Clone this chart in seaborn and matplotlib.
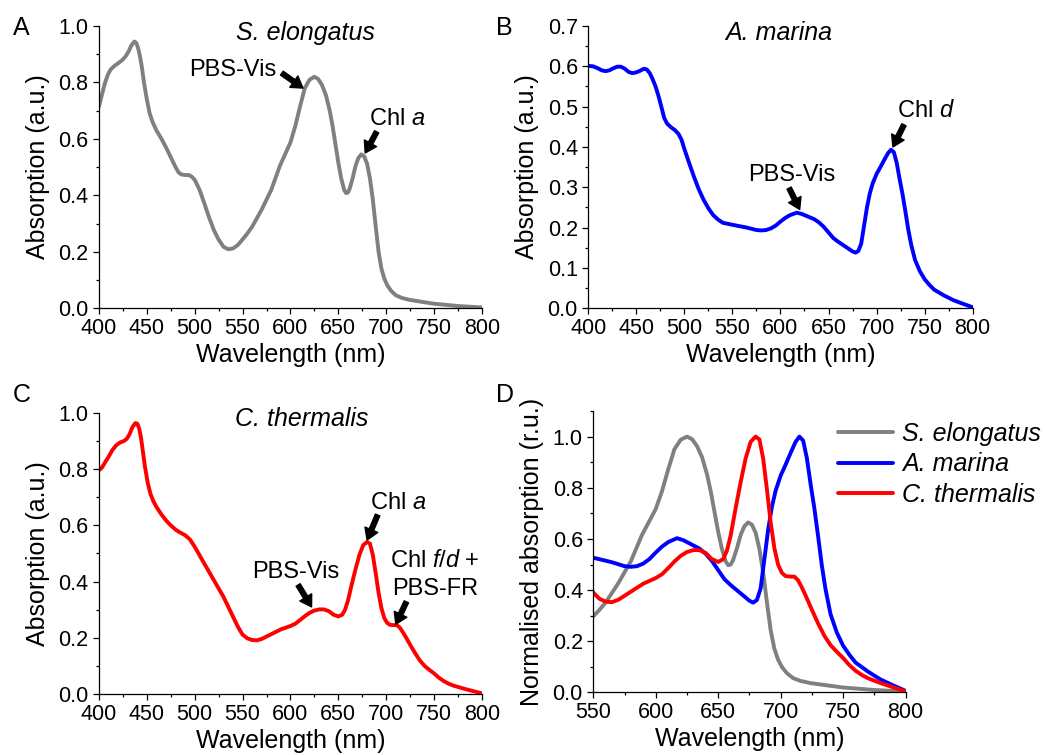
import numpy as np
import pandas as pd
import matplotlib
matplotlib.use("Agg")
import matplotlib.pyplot as plt
from matplotlib.ticker import MultipleLocator
import seaborn as sns

# S. elongatus absorption spectrum
sel_wl = [400, 403, 406, 409, 412, 416, 420, 424, 428, 431, 434, 437, 439, 441, 443, 445,
          447, 450, 453, 456, 460, 465, 470, 475, 480, 483, 486, 490, 494, 497, 500, 505,
          510, 515, 520, 525, 530, 535, 540, 545, 550, 555, 560, 570, 580, 589, 595, 600,
          605, 610, 615, 620, 625, 629, 633, 637, 641, 644, 647, 650, 653, 656, 658, 660,
          662, 665, 668, 671, 674, 677, 680, 683, 686, 689, 692, 695, 698, 701, 705, 710,
          716, 724, 735, 750, 775, 800]
sel_abs = [0.714, 0.755, 0.795, 0.825, 0.845, 0.858, 0.868, 0.878, 0.893, 0.91, 0.932,
           0.945, 0.94, 0.92, 0.89, 0.85, 0.80, 0.74, 0.69, 0.66, 0.63, 0.602, 0.57, 0.535,
           0.50, 0.482, 0.474, 0.472, 0.472, 0.466, 0.455, 0.42, 0.372, 0.322, 0.277, 0.243,
           0.218, 0.209, 0.212, 0.224, 0.244, 0.265, 0.289, 0.35, 0.42, 0.505, 0.55, 0.588,
           0.645, 0.715, 0.78, 0.81, 0.82, 0.812, 0.79, 0.755, 0.70, 0.645, 0.58, 0.515,
           0.46, 0.42, 0.408, 0.41, 0.425, 0.462, 0.505, 0.533, 0.545, 0.538, 0.512, 0.46,
           0.385, 0.29, 0.20, 0.14, 0.105, 0.082, 0.062, 0.046, 0.037, 0.03, 0.024, 0.016,
           0.008, 0.003]

# A. marina absorption spectrum
am_wl = [400, 405, 410, 414, 418, 422, 426, 430, 434, 438, 442, 446, 450, 454, 458, 461,
         464, 467, 470, 473, 476, 479, 482, 486, 490, 494, 497, 500, 505, 510, 515, 520,
         525, 530, 535, 540, 550, 565, 575, 580, 585, 590, 595, 600, 605, 610, 617, 622,
         628, 635, 640, 645, 650, 655, 660, 665, 670, 675, 678, 681, 684, 687, 690, 693,
         696, 700, 704, 708, 712, 715, 718, 721, 724, 727, 730, 733, 736, 740, 745, 750,
         755, 760, 770, 780, 790, 800]
am_abs = [0.601, 0.60, 0.595, 0.59, 0.588, 0.59, 0.595, 0.599, 0.599, 0.594, 0.586, 0.583,
          0.585, 0.589, 0.594, 0.592, 0.583, 0.568, 0.55, 0.527, 0.50, 0.472, 0.458, 0.449,
          0.442, 0.432, 0.418, 0.395, 0.36, 0.326, 0.295, 0.269, 0.248, 0.231, 0.22, 0.212,
          0.207, 0.20, 0.194, 0.193, 0.194, 0.198, 0.205, 0.215, 0.224, 0.231, 0.237, 0.234,
          0.228, 0.221, 0.213, 0.202, 0.188, 0.174, 0.165, 0.157, 0.149, 0.141, 0.138,
          0.142, 0.16, 0.205, 0.25, 0.285, 0.31, 0.333, 0.35, 0.368, 0.385, 0.393, 0.387,
          0.36, 0.32, 0.283, 0.24, 0.195, 0.158, 0.12, 0.092, 0.072, 0.058, 0.046, 0.032,
          0.02, 0.011, 0.0025]

# C. thermalis absorption spectrum
ct_wl = [400, 403, 406, 410, 414, 418, 422, 426, 429, 432, 435, 438, 440, 442, 444, 446,
         448, 451, 454, 457, 460, 465, 470, 475, 480, 485, 490, 495, 500, 510, 520, 530,
         540, 545, 550, 555, 560, 565, 570, 580, 590, 600, 605, 610, 615, 620, 625, 630,
         635, 640, 645, 650, 654, 657, 660, 664, 668, 672, 676, 680, 683, 686, 689, 692,
         695, 698, 701, 704, 708, 711, 714, 717, 720, 725, 730, 735, 740, 745, 750, 755,
         760, 765, 770, 780, 790, 800]
ct_abs = [0.796, 0.805, 0.822, 0.844, 0.868, 0.885, 0.895, 0.90, 0.908, 0.925, 0.95, 0.964,
          0.962, 0.945, 0.91, 0.86, 0.81, 0.75, 0.71, 0.685, 0.666, 0.64, 0.618, 0.60,
          0.585, 0.574, 0.565, 0.55, 0.524, 0.464, 0.405, 0.346, 0.275, 0.24, 0.211, 0.198,
          0.192, 0.191, 0.196, 0.213, 0.23, 0.242, 0.25, 0.263, 0.277, 0.289, 0.297, 0.301,
          0.301, 0.295, 0.282, 0.276, 0.282, 0.30, 0.332, 0.39, 0.445, 0.495, 0.53, 0.541,
          0.535, 0.495, 0.43, 0.36, 0.305, 0.27, 0.253, 0.246, 0.245, 0.245, 0.237, 0.222,
          0.205, 0.175, 0.146, 0.12, 0.10, 0.086, 0.073, 0.058, 0.046, 0.037, 0.03, 0.02,
          0.011, 0.002]

species = ["S. elongatus", "A. marina", "C. thermalis"]
colors = ["#808080", "#0000ff", "#ff0000"]

sns.set_theme(style="ticks")
plt.rcParams["font.family"] = ["Liberation Sans", "DejaVu Sans"]
plt.rcParams["mathtext.fontset"] = "custom"
plt.rcParams["mathtext.rm"] = "Liberation Sans"
plt.rcParams["mathtext.it"] = "Liberation Sans:italic"
plt.rcParams.update({
    "text.color": "black",
    "axes.linewidth": 0.9, "axes.edgecolor": "black",
    "xtick.major.size": 4.5, "ytick.major.size": 4.5,
    "xtick.minor.size": 2.5, "ytick.minor.size": 2.5,
    "xtick.major.width": 0.9, "ytick.major.width": 0.9,
    "xtick.minor.width": 0.9, "ytick.minor.width": 0.9,
    "xtick.color": "black", "ytick.color": "black",
    "xtick.labelcolor": "black", "ytick.labelcolor": "black",
    "xtick.labelsize": 15.5, "ytick.labelsize": 15.5,
    "xtick.major.pad": 2.5, "ytick.major.pad": 3,
    "axes.labelsize": 18, "axes.labelcolor": "black",
})

fig = plt.figure(figsize=(10.46, 7.55), dpi=100)
axA = fig.add_axes([0.0946, 0.5917, 0.3662, 0.3739])
axB = fig.add_axes([0.5624, 0.5917, 0.3675, 0.3739])
axC = fig.add_axes([0.0946, 0.0808, 0.3662, 0.3722])
axD = fig.add_axes([0.5672, 0.0828, 0.2985, 0.3728])

LW = 2.8
ARROW = dict(arrowstyle="simple,head_length=0.4,head_width=0.5,tail_width=0.17",
             color="black", shrinkA=0, shrinkB=0, mutation_scale=20)


def style(ax, ymax, ymaj, ymin, xlo=400, xhi=800):
    ax.set_xlim(xlo, xhi)
    ax.set_ylim(0, ymax)
    ax.xaxis.set_major_locator(MultipleLocator(50))
    ax.xaxis.set_minor_locator(MultipleLocator(25))
    ax.yaxis.set_major_locator(MultipleLocator(ymaj))
    ax.yaxis.set_minor_locator(MultipleLocator(ymin))
    ax.set_xlabel("Wavelength (nm)", labelpad=3)
    sns.despine(ax=ax)


def note(ax, text, txy, tail, tip):
    ax.text(txy[0], txy[1], text, fontsize=17, ha="center", va="center")
    ax.annotate("", xy=tip, xytext=tail, arrowprops=ARROW)


# A
sns.lineplot(x=sel_wl, y=sel_abs, ax=axA, color=colors[0], lw=LW, sort=False)
style(axA, 1.0, 0.2, 0.1)
axA.set_ylabel("Absorption (a.u.)", labelpad=6)
axA.text(616, 0.975, species[0], fontsize=18, style="italic", ha="center", va="center")
note(axA, "PBS-Vis", (540, 0.844), (591, 0.833), (613, 0.78))
note(axA, r"Chl $\mathit{a}$", (711, 0.67), (690, 0.625), (678, 0.55))

# B
sns.lineplot(x=am_wl, y=am_abs, ax=axB, color=colors[1], lw=LW, sort=False)
style(axB, 0.7, 0.1, 0.05)
axB.set_ylabel("Absorption (a.u.)", labelpad=6)
axB.text(598, 0.683, species[1], fontsize=18, style="italic", ha="center", va="center")
note(axB, r"Chl $\mathit{d}$", (751, 0.49), (728.5, 0.455), (717, 0.40))
note(axB, "PBS-Vis", (612, 0.331), (609, 0.298), (620, 0.245))

# C
sns.lineplot(x=ct_wl, y=ct_abs, ax=axC, color=colors[2], lw=LW, sort=False)
style(axC, 1.0, 0.2, 0.1)
axC.set_ylabel("Absorption (a.u.)", labelpad=6)
axC.text(612, 0.979, species[2], fontsize=18, style="italic", ha="center", va="center")
note(axC, r"Chl $\mathit{a}$", (712, 0.68), (691, 0.637), (680, 0.548))
note(axC, "PBS-Vis", (605, 0.434), (608, 0.388), (622, 0.31))
axC.text(751, 0.474, r"Chl $\mathit{f/d}$ +", fontsize=17, ha="center", va="center")
note(axC, "PBS-FR", (751, 0.374), (721, 0.328), (710, 0.248))

# D: spectra normalised to their maximum within 550-800 nm
frames = []
for name, wl, ab in zip(species, [sel_wl, am_wl, ct_wl], [sel_abs, am_abs, ct_abs]):
    wl = np.array(wl)
    ab = np.array(ab)
    norm = ab / ab[wl >= 550].max()
    frames.append(pd.DataFrame({"wl": wl, "norm": norm, "species": name}))
df = pd.concat(frames, ignore_index=True)
sns.lineplot(data=df, x="wl", y="norm", hue="species", palette=colors, ax=axD,
             lw=LW, sort=False)
style(axD, 1.1, 0.2, 0.1, 550, 800)
axD.set_ylabel("Normalised absorption (r.u.)", labelpad=6)
axD.legend(loc="upper left", bbox_to_anchor=(0.784, 0.962), frameon=False,
           prop={"style": "italic", "size": 18}, handlelength=2.2, handletextpad=0.35,
           labelspacing=0.27, borderpad=0, borderaxespad=0)
for line in axD.get_legend().get_lines():
    line.set_linewidth(LW)

for letter, x, y in [("A", 0.0124, 0.9536), ("B", 0.474, 0.9536),
                     ("C", 0.0124, 0.4675), ("D", 0.474, 0.4675)]:
    fig.text(x, y, letter, fontsize=18, va="baseline", ha="left")

fig.savefig("out.png", dpi=100)
